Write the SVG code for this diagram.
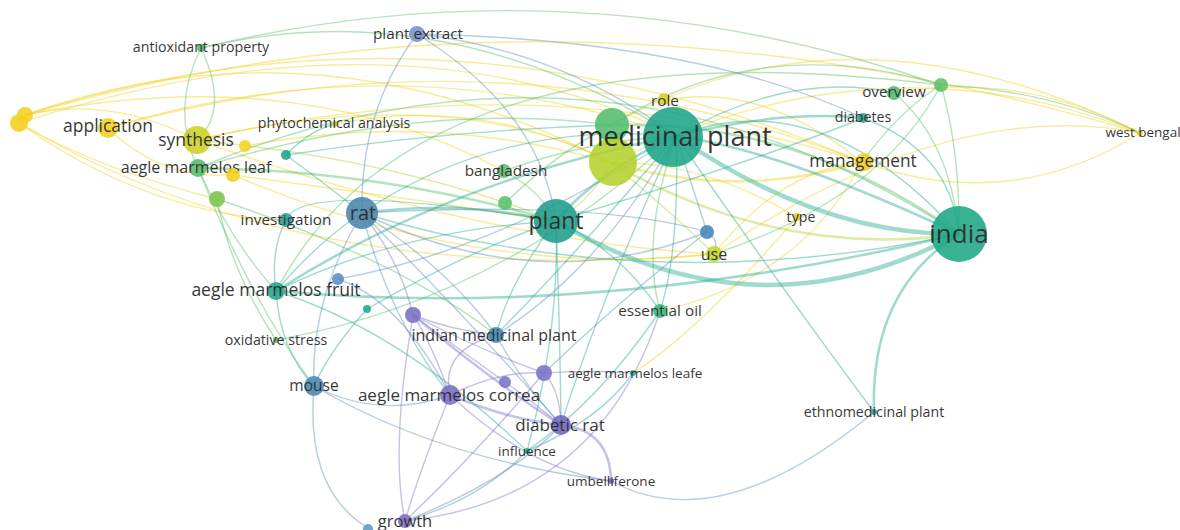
<svg xmlns="http://www.w3.org/2000/svg" width="1180" height="530" viewBox="0 0 1180 530">
<style>
.e{fill:none;stroke-opacity:0.45;stroke-width:1.4}
.y{stroke:#f2d21e}.yg{stroke:#b5d330}.g{stroke:#5ec26a}.t{stroke:#2aae93}.b{stroke:#5a93bd}.p{stroke:#7f78cc}
.w2{stroke-width:2.5}.w4{stroke-width:4.5}
.n{opacity:0.88}
text{font-family:"Open Sans","Noto Sans","Liberation Sans",sans-serif;fill:#1a1a1a;text-anchor:middle}
</style>
<rect width="1180" height="530" fill="#fff"/>
<g id="connectors">
<path class="e y" d="M25 115 Q318 11 612 163"/>
<path class="e y" d="M25 115 Q440 -18 862 162"/>
<path class="e y" d="M25 115 Q560 -40 1140 133"/>
<path class="e y" d="M19 123 Q400 0 676 136"/>
<path class="e y" d="M25 115 Q110 95 197 140"/>
<path class="e y" d="M19 123 Q100 170 217 199"/>
<path class="e y" d="M19 123 Q150 215 286 220"/>
<path class="e y" d="M19 123 Q300 290 714 254"/>
<path class="e y" d="M25 115 Q300 60 504 171"/>
<path class="e y" d="M108 128 Q400 40 676 136"/>
<path class="e y" d="M108 128 Q500 20 862 162"/>
<path class="e y" d="M108 128 Q160 180 233 175"/>
<path class="e y" d="M197 140 Q450 80 612 163"/>
<path class="e y" d="M197 140 Q480 240 714 254"/>
<path class="e y" d="M197 140 Q540 60 862 162"/>
<path class="e y" d="M245 146 Q430 110 612 163"/>
<path class="e y" d="M233 175 Q480 280 714 254"/>
<path class="e y" d="M335 124 Q480 95 612 163"/>
<path class="e y" d="M1140 133 Q1010 215 862 162"/>
<path class="e y" d="M1140 133 Q880 30 612 163"/>
<path class="e y" d="M1140 133 Q850 -10 612 125"/>
<path class="e y" d="M1140 133 Q1020 70 894 93"/>
<path class="e y" d="M1140 133 Q950 95 714 254"/>
<path class="e y" d="M797 217 Q700 330 633 373"/>
<path class="e y" d="M797 217 Q700 160 612 163"/>
<path class="e y" d="M714 254 Q780 170 862 162"/>
<path class="e y" d="M664 101 Q760 80 862 162"/>
<path class="e y" d="M862 162 Q800 280 660 311"/>
<path class="e y w2" d="M612 163 Q740 200 862 162"/>
<path class="e y" d="M233 175 Q420 200 556 221"/>
<path class="e yg w2" d="M612 163 Q780 260 959 234"/>
<path class="e yg" d="M612 163 Q560 250 505 203"/>
<path class="e yg" d="M612 163 Q680 220 714 254"/>
<path class="e yg" d="M197 140 Q400 160 556 221"/>
<path class="e g" d="M201 48 Q570 -42 941 85"/>
<path class="e g" d="M201 48 Q440 -10 676 136"/>
<path class="e g" d="M201 48 Q170 110 198 168"/>
<path class="e g" d="M201 48 Q230 110 197 140"/>
<path class="e g" d="M198 168 Q600 0 959 234"/>
<path class="e g" d="M198 168 Q420 100 612 125"/>
<path class="e g w2" d="M198 168 Q380 170 556 221"/>
<path class="e g" d="M198 168 Q230 240 276 291"/>
<path class="e g" d="M198 168 Q250 300 314 386"/>
<path class="e g" d="M217 199 Q230 270 276 340"/>
<path class="e g" d="M217 199 Q400 260 496 335"/>
<path class="e g" d="M504 171 Q590 140 676 136"/>
<path class="e g" d="M504 171 Q540 190 556 221"/>
<path class="e g" d="M505 203 Q560 150 612 125"/>
<path class="e g" d="M894 93 Q950 140 959 234"/>
<path class="e g" d="M941 85 Q960 150 959 234"/>
<path class="e g" d="M941 85 Q900 110 862 162"/>
<path class="e g" d="M941 85 Q880 200 714 254"/>
<path class="e g" d="M941 85 Q1050 90 1140 133"/>
<path class="e g w2" d="M612 125 Q800 120 959 234"/>
<path class="e g" d="M612 125 Q760 30 941 85"/>
<path class="e g" d="M276 340 Q500 300 676 136"/>
<path class="e g" d="M660 311 Q640 240 676 136"/>
<path class="e g" d="M276 291 Q420 20 941 85"/>
<path class="e t w4" d="M959 234 Q757 342 556 221"/>
<path class="e t w4" d="M959 234 Q820 235 676 136"/>
<path class="e t w2" d="M959 234 Q780 150 676 136"/>
<path class="e t" d="M959 234 Q650 300 362 213"/>
<path class="e t w2" d="M959 234 Q600 320 276 291"/>
<path class="e t w2" d="M959 234 Q870 290 874 412"/>
<path class="e t" d="M959 234 Q950 150 863 118"/>
<path class="e t" d="M959 234 Q820 80 676 136"/>
<path class="e t" d="M676 136 Q790 300 874 412"/>
<path class="e t w2" d="M676 136 Q600 170 556 221"/>
<path class="e t" d="M676 136 Q500 120 362 213"/>
<path class="e t w2" d="M676 136 Q450 180 276 291"/>
<path class="e t" d="M676 136 Q580 250 496 335"/>
<path class="e t w2" d="M676 136 Q780 110 863 118"/>
<path class="e t" d="M676 136 Q790 70 894 93"/>
<path class="e t" d="M676 136 Q680 250 660 311"/>
<path class="e t" d="M676 136 Q600 300 561 425"/>
<path class="e t" d="M556 221 Q400 230 276 291"/>
<path class="e t w2" d="M556 221 Q460 200 362 213"/>
<path class="e t" d="M556 221 Q620 250 660 311"/>
<path class="e t" d="M556 221 Q510 280 496 335"/>
<path class="e t" d="M556 221 Q560 330 561 425"/>
<path class="e t" d="M556 221 Q560 330 527 451"/>
<path class="e t" d="M556 221 Q300 180 286 220"/>
<path class="e t" d="M276 291 Q280 350 314 386"/>
<path class="e t" d="M276 291 Q320 240 362 213"/>
<path class="e t" d="M276 291 Q270 250 286 220"/>
<path class="e t" d="M276 291 Q400 330 527 451"/>
<path class="e t" d="M286 155 Q320 180 362 213"/>
<path class="e t" d="M286 155 Q310 130 335 124"/>
<path class="e t" d="M286 155 Q450 130 612 125"/>
<path class="e t" d="M367 309 Q470 250 556 221"/>
<path class="e t" d="M367 309 Q330 350 314 386"/>
<path class="e t" d="M633 373 Q600 420 527 451"/>
<path class="e t" d="M660 311 Q600 400 527 451"/>
<path class="e t" d="M527 451 Q480 500 405 521"/>
<path class="e t" d="M863 118 Q760 160 556 221"/>
<path class="e b" d="M417 34 Q360 110 362 213"/>
<path class="e b" d="M417 34 Q560 50 676 136"/>
<path class="e b" d="M417 34 Q540 110 556 221"/>
<path class="e b" d="M417 34 Q700 40 863 118"/>
<path class="e b" d="M362 213 Q470 320 561 425"/>
<path class="e b" d="M362 213 Q390 320 450 395"/>
<path class="e b" d="M362 213 Q310 300 314 386"/>
<path class="e b" d="M362 213 Q450 270 496 335"/>
<path class="e b" d="M362 213 Q540 300 707 232"/>
<path class="e b" d="M362 213 Q600 200 707 232"/>
<path class="e b" d="M314 386 Q305 490 368 528"/>
<path class="e b" d="M314 386 Q380 420 450 395"/>
<path class="e b" d="M314 386 Q440 460 611 481"/>
<path class="e b" d="M707 232 Q690 180 676 136"/>
<path class="e b" d="M707 232 Q720 240 714 254"/>
<path class="e b" d="M707 232 Q620 300 544 373"/>
<path class="e b" d="M338 279 Q500 250 676 136"/>
<path class="e b" d="M338 279 Q400 300 450 395"/>
<path class="e b" d="M496 335 Q600 270 676 136"/>
<path class="e b" d="M496 335 Q520 380 561 425"/>
<path class="e p w2" d="M450 395 Q510 420 561 425"/>
<path class="e p" d="M450 395 Q500 370 544 373"/>
<path class="e p" d="M450 395 Q420 470 405 521"/>
<path class="e p" d="M450 395 Q440 350 496 335"/>
<path class="e p" d="M450 395 Q430 340 413 315"/>
<path class="e p" d="M450 395 Q530 470 611 481"/>
<path class="e p w2" d="M413 315 Q490 380 561 425"/>
<path class="e p" d="M413 315 Q450 330 496 335"/>
<path class="e p" d="M413 315 Q480 350 544 373"/>
<path class="e p w2" d="M561 425 Q610 430 611 481"/>
<path class="e p" d="M561 425 Q510 480 405 521"/>
<path class="e p" d="M561 425 Q560 390 544 373"/>
<path class="e p" d="M544 373 Q590 370 633 373"/>
<path class="e p" d="M544 373 Q470 460 405 521"/>
<path class="e p" d="M405 521 Q390 450 413 315"/>
<path class="e b" d="M611 481 Q720 540 874 412"/>
<path class="e p" d="M505 382 Q530 400 561 425"/>
<path class="e p" d="M505 382 Q460 350 413 315"/>
<path class="e p" d="M362 213 Q400 260 413 315"/>
<path class="e p" d="M405 521 Q600 500 660 311"/>
</g>
<g id="n-left-y1" class="n"><circle cx="19" cy="123" r="9" fill="#f3cf1f"/></g>
<g id="n-left-y2" class="n"><circle cx="25" cy="115" r="8" fill="#f5d020"/></g>
<g id="n-application" class="n"><circle cx="108" cy="128" r="10" fill="#f3d022"/><text x="108" y="132" font-size="17.5">application</text></g>
<g id="n-synthesis" class="n"><circle cx="197" cy="140" r="14" fill="#cdd125"/><text x="196" y="146" font-size="17.5">synthesis</text></g>
<g id="n-ys" class="n"><circle cx="245" cy="146" r="6" fill="#f6d321"/></g>
<g id="n-antioxidant" class="n"><circle cx="201" cy="48" r="4" fill="#57bd6a"/><text x="201" y="52" font-size="14.2">antioxidant property</text></g>
<g id="n-aml" class="n"><circle cx="198" cy="168" r="9" fill="#56bc6c"/><text x="196" y="173" font-size="16">aegle marmelos leaf</text></g>
<g id="n-y3" class="n"><circle cx="233" cy="175" r="7" fill="#f3d021"/></g>
<g id="n-g1" class="n"><circle cx="217" cy="199" r="8" fill="#7ec34c"/></g>
<g id="n-t1" class="n"><circle cx="286" cy="155" r="5" fill="#1fa38a"/></g>
<g id="n-phyto" class="n"><circle cx="335" cy="124" r="3" fill="#c4d22a"/><text x="334" y="128" font-size="14.2">phytochemical analysis</text></g>
<g id="n-investigation" class="n"><circle cx="286" cy="220" r="7" fill="#2a9e99"/><text x="286" y="225" font-size="15.3">investigation</text></g>
<g id="n-rat" class="n"><circle cx="362" cy="213" r="16" fill="#4a86ae"/><text x="363" y="220" font-size="20">rat</text></g>
<g id="n-plantextract" class="n"><circle cx="417" cy="34" r="8" fill="#7590cb"/><text x="418" y="39" font-size="15.3">plant extract</text></g>
<g id="n-bangladesh" class="n"><circle cx="504" cy="171" r="7" fill="#5abf6c"/><text x="506" y="176" font-size="15.3">bangladesh</text></g>
<g id="n-g2" class="n"><circle cx="505" cy="203" r="7" fill="#5abf6c"/></g>
<g id="n-plant" class="n"><circle cx="556" cy="221" r="22" fill="#1f9e8d"/><text x="556" y="229" font-size="23">plant</text></g>
<g id="n-mpg" class="n"><circle cx="612" cy="125" r="17" fill="#52bd6f"/></g>
<g id="n-mpy" class="n"><circle cx="613" cy="162" r="24" fill="#b4d22d"/></g>
<g id="n-medicinalplant" class="n"><circle cx="673" cy="137" r="30" fill="#1ea58a"/><text x="675" y="146" font-size="27">medicinal plant</text></g>
<g id="n-role" class="n"><circle cx="664" cy="99" r="6" fill="#d7d523"/><text x="665" y="106" font-size="15.3">role</text></g>
<g id="n-b1" class="n"><circle cx="707" cy="232" r="7" fill="#4686b6"/></g>
<g id="n-use" class="n"><circle cx="714" cy="254" r="8" fill="#c6d52c"/><text x="714" y="260" font-size="16">use</text></g>
<g id="n-type" class="n"><circle cx="797" cy="217" r="4" fill="#e6d420"/><text x="801" y="222" font-size="14.2">type</text></g>
<g id="n-management" class="n"><circle cx="864" cy="162" r="9" fill="#f3cf1e"/><text x="863" y="167" font-size="17.3">management</text></g>
<g id="n-diabetes" class="n"><circle cx="863" cy="118" r="5" fill="#26a391"/><text x="863" y="122" font-size="14.2">diabetes</text></g>
<g id="n-overview" class="n"><circle cx="894" cy="93" r="7" fill="#4ebb74"/><text x="894" y="97" font-size="15.3">overview</text></g>
<g id="n-g3" class="n"><circle cx="941" cy="85" r="7" fill="#5ec068"/></g>
<g id="n-westbengal" class="n"><circle cx="1140" cy="133" r="3" fill="#e5d82a"/><text x="1143" y="137" font-size="13.5">west bengal</text></g>
<g id="n-india" class="n"><circle cx="959" cy="234" r="28" fill="#1ea886"/><text x="959" y="243" font-size="26">india</text></g>
<g id="n-amf" class="n"><circle cx="276" cy="291" r="9" fill="#20a58b"/><text x="276" y="296" font-size="17.5">aegle marmelos fruit</text></g>
<g id="n-b2" class="n"><circle cx="338" cy="279" r="6" fill="#5a8dc0"/></g>
<g id="n-t2" class="n"><circle cx="367" cy="309" r="4" fill="#1ea88e"/></g>
<g id="n-p1" class="n"><circle cx="413" cy="315" r="8" fill="#7a70c4"/></g>
<g id="n-imp" class="n"><circle cx="496" cy="335" r="8" fill="#3f8bb5"/><text x="494" y="341" font-size="16">indian medicinal plant</text></g>
<g id="n-oxidative" class="n"><circle cx="276" cy="340" r="3" fill="#6ec25a"/><text x="276" y="345" font-size="14.2">oxidative stress</text></g>
<g id="n-mouse" class="n"><circle cx="314" cy="386" r="10" fill="#4a88b3"/><text x="314" y="391" font-size="15.5">mouse</text></g>
<g id="n-amc" class="n"><circle cx="450" cy="395" r="10" fill="#7a6ec2"/><text x="449" y="401" font-size="17">aegle marmelos correa</text></g>
<g id="n-p2" class="n"><circle cx="505" cy="382" r="6" fill="#7b74c3"/></g>
<g id="n-p3" class="n"><circle cx="544" cy="373" r="8" fill="#7b72c6"/></g>
<g id="n-amle" class="n"><circle cx="633" cy="373" r="3" fill="#29b391"/><text x="635" y="378" font-size="13.5">aegle marmelos leafe</text></g>
<g id="n-essentialoil" class="n"><circle cx="660" cy="311" r="7" fill="#37b97b"/><text x="660" y="316" font-size="15.3">essential oil</text></g>
<g id="n-diabeticrat" class="n"><circle cx="561" cy="425" r="10" fill="#7368bf"/><text x="560" y="431" font-size="17">diabetic rat</text></g>
<g id="n-influence" class="n"><circle cx="527" cy="451" r="3" fill="#28b08e"/><text x="527" y="456" font-size="13.5">influence</text></g>
<g id="n-umbelliferone" class="n"><circle cx="611" cy="481" r="3" fill="#7a70c6"/><text x="611" y="486" font-size="13.5">umbelliferone</text></g>
<g id="n-ethno" class="n"><circle cx="874" cy="412" r="3" fill="#2aa99a"/><text x="874" y="417" font-size="14.2">ethnomedicinal plant</text></g>
<g id="n-growth" class="n"><circle cx="405" cy="521" r="7" fill="#7c6fc4"/><text x="405" y="527" font-size="16.5">growth</text></g>
<g id="n-b3" class="n"><circle cx="368" cy="529" r="5" fill="#5c9ac4"/></g>
</svg>
